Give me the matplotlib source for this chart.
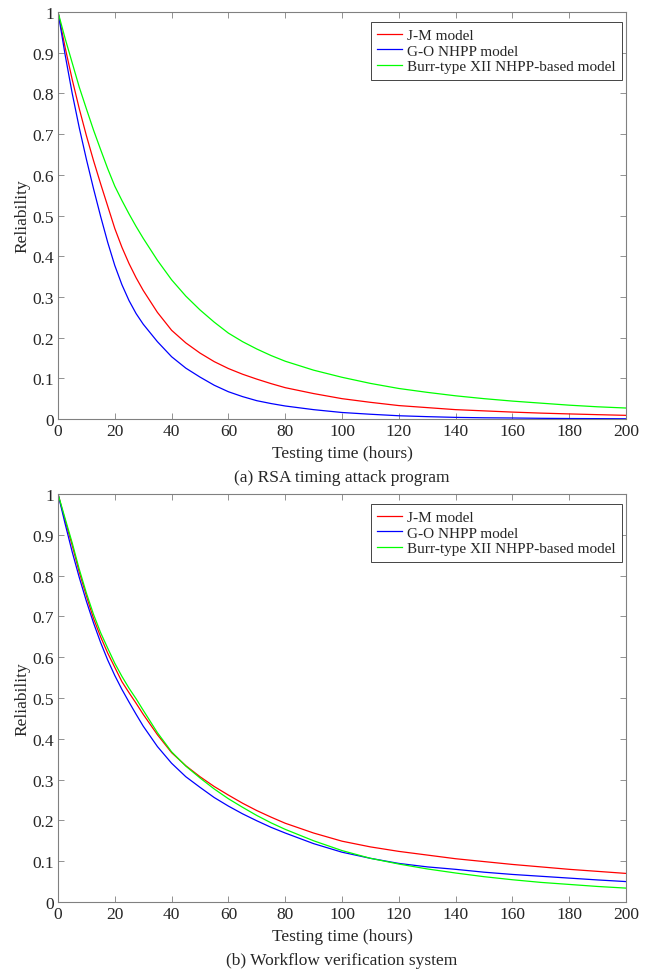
import matplotlib
matplotlib.use("Agg")
import matplotlib.pyplot as plt

plt.rcParams['font.family'] = ['Liberation Serif', 'DejaVu Serif']

t = [0, 2.5, 5, 7.5, 10, 12.5, 15, 17.5, 20, 22.5, 25, 27.5, 30,
     35, 40, 45, 50, 55, 60, 65, 70, 75, 80,
     90, 100, 110, 120, 130, 140, 150, 160, 170, 180, 190, 200]

# (a) RSA timing attack program
jm_top = [1, 0.913, 0.834, 0.762, 0.696, 0.635, 0.578, 0.523, 0.468, 0.422, 0.382, 0.347, 0.316,
          0.262, 0.218, 0.187, 0.162, 0.141, 0.124, 0.11, 0.098, 0.087, 0.077,
          0.0625, 0.05, 0.041, 0.033, 0.028, 0.023, 0.02, 0.017, 0.0145, 0.0125, 0.0107, 0.009]
go_top = [1, 0.895, 0.80, 0.715, 0.638, 0.566, 0.498, 0.434, 0.377, 0.33, 0.291, 0.259, 0.233,
          0.19, 0.153, 0.125, 0.103, 0.083, 0.067, 0.055, 0.045, 0.038, 0.032,
          0.023, 0.016, 0.0117, 0.008, 0.0058, 0.004, 0.003, 0.0025, 0.0017, 0.0012, 0.0009, 0.0006]
burr_top = [1, 0.935, 0.875, 0.815, 0.762, 0.71, 0.662, 0.615, 0.572, 0.537, 0.504, 0.473, 0.444,
            0.39, 0.342, 0.302, 0.268, 0.238, 0.211, 0.19, 0.172, 0.156, 0.142,
            0.12, 0.1025, 0.0875, 0.075, 0.0655, 0.057, 0.05, 0.044, 0.039, 0.034, 0.030, 0.027]

# (b) Workflow verification system
jm_bot = [1, 0.935, 0.874, 0.808, 0.75, 0.695, 0.65, 0.61, 0.575, 0.54, 0.513, 0.487, 0.46,
          0.41, 0.366, 0.334, 0.307, 0.283, 0.262, 0.242, 0.224, 0.208, 0.193,
          0.169, 0.149, 0.135, 0.124, 0.115, 0.106, 0.099, 0.092, 0.086, 0.080, 0.075, 0.070]
go_bot = [1, 0.927, 0.858, 0.795, 0.737, 0.684, 0.636, 0.593, 0.555, 0.521, 0.49, 0.46, 0.431,
          0.381, 0.34, 0.307, 0.281, 0.256, 0.235, 0.216, 0.199, 0.183, 0.169,
          0.143, 0.122, 0.107, 0.0945, 0.086, 0.08, 0.073, 0.0675, 0.063, 0.0585, 0.054, 0.05]
burr_bot = [1, 0.94, 0.88, 0.815, 0.757, 0.705, 0.66, 0.622, 0.585, 0.553, 0.524, 0.498, 0.47,
            0.415, 0.368, 0.333, 0.304, 0.277, 0.253, 0.232, 0.212, 0.194, 0.178,
            0.15, 0.126, 0.107, 0.093, 0.081, 0.071, 0.062, 0.0545, 0.048, 0.043, 0.038, 0.034]

labels = ['J-M model', 'G-O NHPP model', 'Burr-type XII NHPP-based model']
captions = ['(a) RSA timing attack program', '(b) Workflow verification system']

fig = plt.figure(figsize=(6.54, 9.70), dpi=100)
ax1 = fig.add_axes([0.0887, 0.567, 0.8685, 0.4196])
ax2 = fig.add_axes([0.0887, 0.0691, 0.8685, 0.4206])

panels = [(ax1, jm_top, go_top, burr_top), (ax2, jm_bot, go_bot, burr_bot)]
for (ax, jm, go, burr), cap in zip(panels, captions):
    ax.plot(t, jm, color='#ff0000', lw=0.9, label=labels[0])
    ax.plot(t, go, color='#0000ff', lw=0.9, label=labels[1])
    ax.plot(t, burr, color='#00ff00', lw=0.9, label=labels[2])
    ax.set_xlim(0, 200)
    ax.set_ylim(0, 1)
    ax.set_xticks(range(0, 201, 20))
    ax.set_yticks([0, 0.1, 0.2, 0.3, 0.4, 0.5, 0.6, 0.7, 0.8, 0.9, 1])
    ax.set_yticklabels(['0', '0.1', '0.2', '0.3', '0.4', '0.5', '0.6', '0.7', '0.8', '0.9', '1'])
    ax.tick_params(direction='in', top=True, right=True, length=4, width=0.6,
                   colors='#808080', labelcolor='#262626', labelsize=12.5, pad=3)
    for s in ax.spines.values():
        s.set_color('#808080')
        s.set_linewidth(0.8)
    ax.set_xlabel('Testing time (hours)', fontsize=12.5, color='#262626', labelpad=4)
    ax.set_ylabel('Reliability', fontsize=12.5, color='#262626', labelpad=1)
    ax.text(0.5, -0.142, cap, transform=ax.transAxes, ha='center', va='center',
            fontsize=12.5, color='#262626')
    leg = ax.legend(loc='upper right', bbox_to_anchor=(0.993, 0.975), borderaxespad=0,
                    fontsize=11, handlelength=1.65, handletextpad=0.3,
                    labelspacing=0.12, borderpad=0.42, fancybox=False, framealpha=1)
    leg.get_frame().set_edgecolor('#262626')
    leg.get_frame().set_linewidth(0.6)
    for txt in leg.get_texts():
        txt.set_color('#262626')

fig.savefig('out.png', dpi=100)
